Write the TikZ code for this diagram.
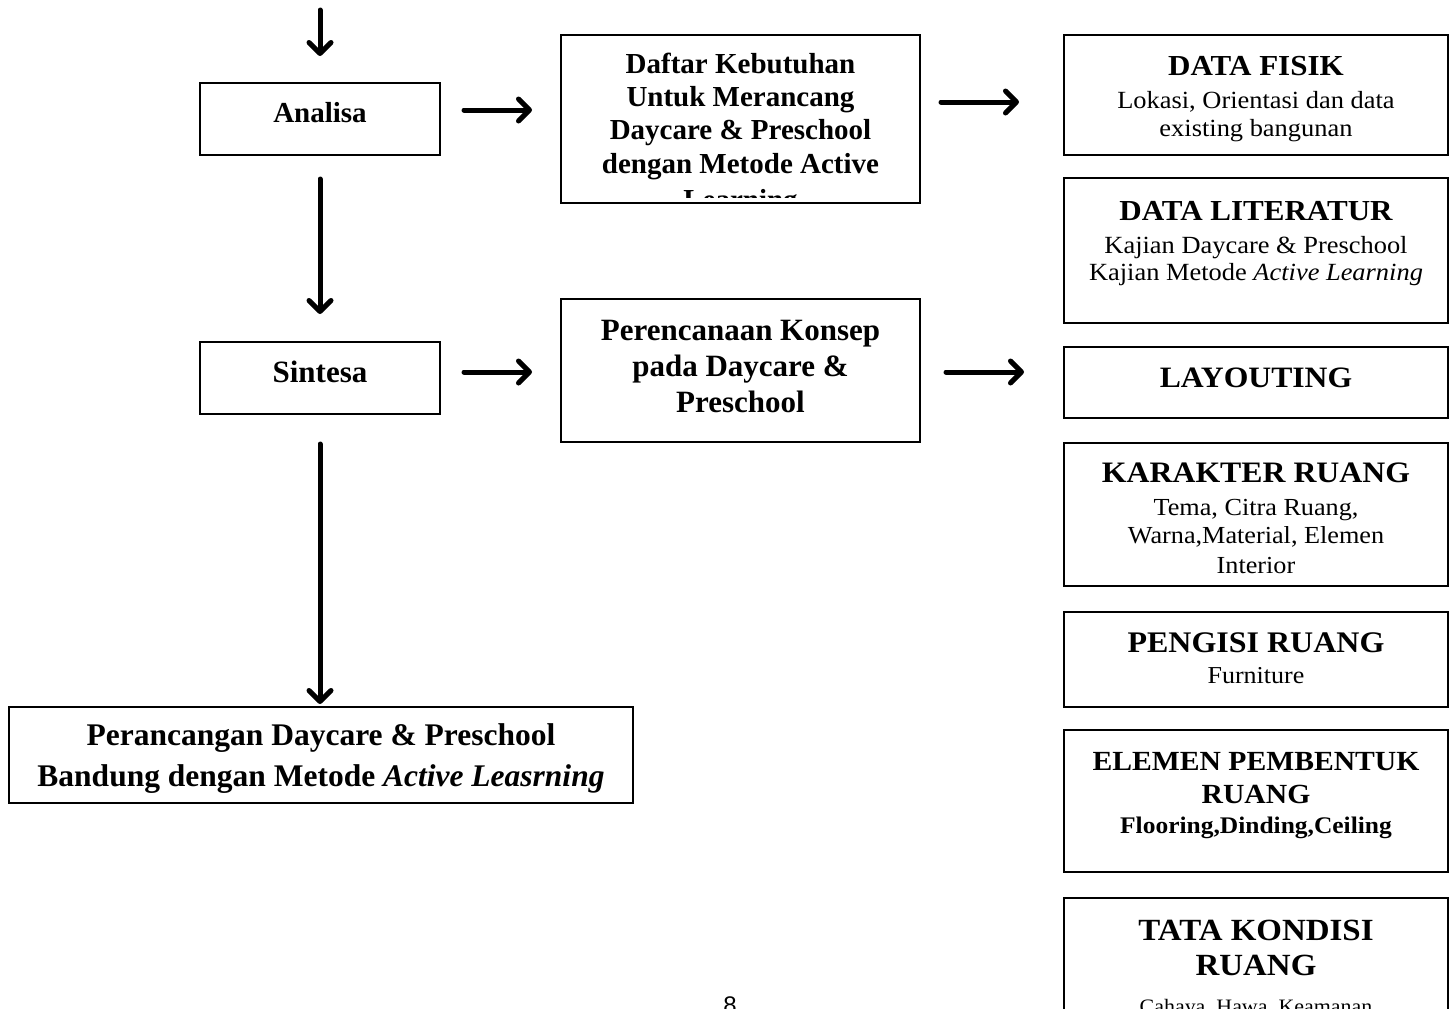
\documentclass[tikz,border=0pt]{standalone}
\usepackage{fontspec}
\setmainfont{Liberation Serif}
\newfontfamily\rf[FakeStretch=1.07]{Liberation Serif}
\newfontfamily\pgnum{Liberation Sans}
\usetikzlibrary{arrows.meta}
\newcommand\setfs[1]{\fontsize{#1}{#1}\selectfont}
\tikzset{
  bx/.style={draw, line width=2pt, inner sep=0pt},
  lbl/.style={anchor=base, inner sep=0pt},
  arr/.style={line width=5pt, line cap=round, line join=round,
    -{Straight Barb[length=11pt,width=22pt,line cap=round,line join=round]}},
}
\begin{document}
\begin{tikzpicture}[x=1pt,y=-1pt]
\useasboundingbox (0,0) rectangle (1451,1009);
\clip (0,0) rectangle (1451,1009);

% ---------- boxes ----------
\node[bx, minimum width=240pt, minimum height=72pt]  (analisa) at (320,119) {};
\node[bx, minimum width=359pt, minimum height=168pt] (daftar)  at (740.5,119) {};
\node[bx, minimum width=240pt, minimum height=72pt]  (sintesa) at (320,378) {};
\node[bx, minimum width=359pt, minimum height=143pt] (konsep)  at (740.5,370.5) {};
\node[bx, minimum width=624pt, minimum height=96pt]  (hasil)   at (321,755) {};

\node[bx, minimum width=384pt, minimum height=120pt] (fisik)     at (1256,95) {};
\node[bx, minimum width=384pt, minimum height=145pt] (literatur) at (1256,250.5) {};
\node[bx, minimum width=384pt, minimum height=71pt]  (layout)    at (1256,382.5) {};
\node[bx, minimum width=384pt, minimum height=143pt] (karakter)  at (1256,514.5) {};
\node[bx, minimum width=384pt, minimum height=95pt]  (pengisi)   at (1256,659.5) {};
\node[bx, minimum width=384pt, minimum height=142pt] (elemen)    at (1256,801) {};
\node[bx, minimum width=384pt, minimum height=142pt] (tata)      at (1256,969) {};

% ---------- left texts ----------
\node[lbl, font=\setfs{29}\bfseries] (analisa-t) at (320,122) {Analisa};
\node[lbl, font=\setfs{31}\bfseries] (sintesa-t) at (320,382) {Sintesa};

\begin{scope}
\clip (562,36) rectangle (919,197);
\node[lbl, font=\setfs{29}\bfseries] (daftar-1) at (740.5,73)  {Daftar Kebutuhan};
\node[lbl, font=\setfs{29}\bfseries] (daftar-2) at (740.5,106) {Untuk Merancang};
\node[lbl, font=\setfs{29}\bfseries] (daftar-3) at (740.5,139.5) {Daycare \& Preschool};
\node[lbl, font=\setfs{29}\bfseries] (daftar-4) at (740.5,173) {dengan Metode Active};
\node[lbl, font=\setfs{29}\bfseries] (daftar-5) at (740.5,209) {Learning};
\end{scope}

\node[lbl, font=\setfs{31}\bfseries] (konsep-1) at (740.5,340) {Perencanaan Konsep};
\node[lbl, font=\setfs{31}\bfseries] (konsep-2) at (740.5,376) {pada Daycare \&};
\node[lbl, font=\setfs{31}\bfseries] (konsep-3) at (740.5,412) {Preschool};

\node[lbl, font=\setfs{31.5}\bfseries] (hasil-1) at (321,745) {Perancangan Daycare \& Preschool};
\node[lbl, font=\setfs{31.5}\bfseries] (hasil-2) at (321,786) {Bandung dengan Metode \textit{Active Leasrning}};

% ---------- right texts ----------
\node[lbl, font=\rf\setfs{29}\bfseries] (fisik-t) at (1256,75) {DATA FISIK};
\node[lbl, font=\rf\setfs{24.7}] (fisik-1) at (1256,108) {Lokasi, Orientasi dan data};
\node[lbl, font=\rf\setfs{24.7}] (fisik-2) at (1256,136) {existing bangunan};

\node[lbl, font=\rf\setfs{29}\bfseries] (lit-t) at (1256,220) {DATA LITERATUR};
\node[lbl, font=\rf\setfs{24.7}] (lit-1) at (1256,253) {Kajian Daycare \& Preschool};
\node[lbl, font=\rf\setfs{24.7}] (lit-2) at (1256,280) {Kajian Metode \textit{Active Learning}};

\node[lbl, font=\rf\setfs{29.6}\bfseries] (layout-t) at (1256,387) {LAYOUTING};

\node[lbl, font=\rf\setfs{29.7}\bfseries] (kar-t) at (1256,482) {KARAKTER RUANG};
\node[lbl, font=\rf\setfs{24.5}] (kar-1) at (1256,515) {Tema, Citra Ruang,};
\node[lbl, font=\rf\setfs{24.5}] (kar-2) at (1256,543) {Warna,Material, Elemen};
\node[lbl, font=\rf\setfs{24.5}] (kar-3) at (1256,573) {Interior};

\node[lbl, font=\rf\setfs{29.9}\bfseries] (peng-t) at (1256,652) {PENGISI RUANG};
\node[lbl, font=\rf\setfs{24.3}] (peng-1) at (1256,683) {Furniture};

\node[lbl, font=\rf\setfs{27.7}\bfseries] (elm-t) at (1256,770) {ELEMEN PEMBENTUK};
\node[lbl, font=\rf\setfs{27.7}\bfseries] (elm-2) at (1256,803) {RUANG};
\node[lbl, font=\rf\setfs{23.8}\bfseries] (elm-3) at (1256,833) {Flooring,Dinding,Ceiling};

\node[lbl, font=\rf\setfs{30.8}\bfseries] (tata-t) at (1256,940) {TATA KONDISI};
\node[lbl, font=\rf\setfs{30.8}\bfseries] (tata-2) at (1256,975) {RUANG};
\node[lbl, font=\rf\setfs{20.5}] (tata-3) at (1256,1013) {Cahaya, Hawa, Keamanan};

\node[lbl, font=\pgnum\setfs{24}] (pnum) at (730,1013) {8};

% ---------- arrows ----------
\coordinate (start) at (320,10);
\draw[arr, shorten >=26pt] (start) -- (analisa.north);
\draw[arr, shorten <=23pt, shorten >=27pt] (analisa.south) -- (sintesa.north);
\draw[arr, shorten <=29pt, shorten >=2pt] (sintesa.south) -- (hasil.north -| sintesa.south);
\draw[arr, shorten <=23pt, shorten >=28pt] ([yshift=9pt]analisa.east) -- ([yshift=9pt]daftar.west);
\draw[arr, shorten <=20pt, shorten >=44pt] ([yshift=17pt]daftar.east) -- ([yshift=-7pt]fisik.west);
\draw[arr, shorten <=23pt, shorten >=28pt] ([yshift=6pt]sintesa.east) -- ([yshift=-1.5pt]konsep.west);
\draw[arr, shorten <=25pt, shorten >=39pt] ([yshift=-1.5pt]konsep.east) -- ([yshift=10.5pt]layout.west);
\end{tikzpicture}
\end{document}
